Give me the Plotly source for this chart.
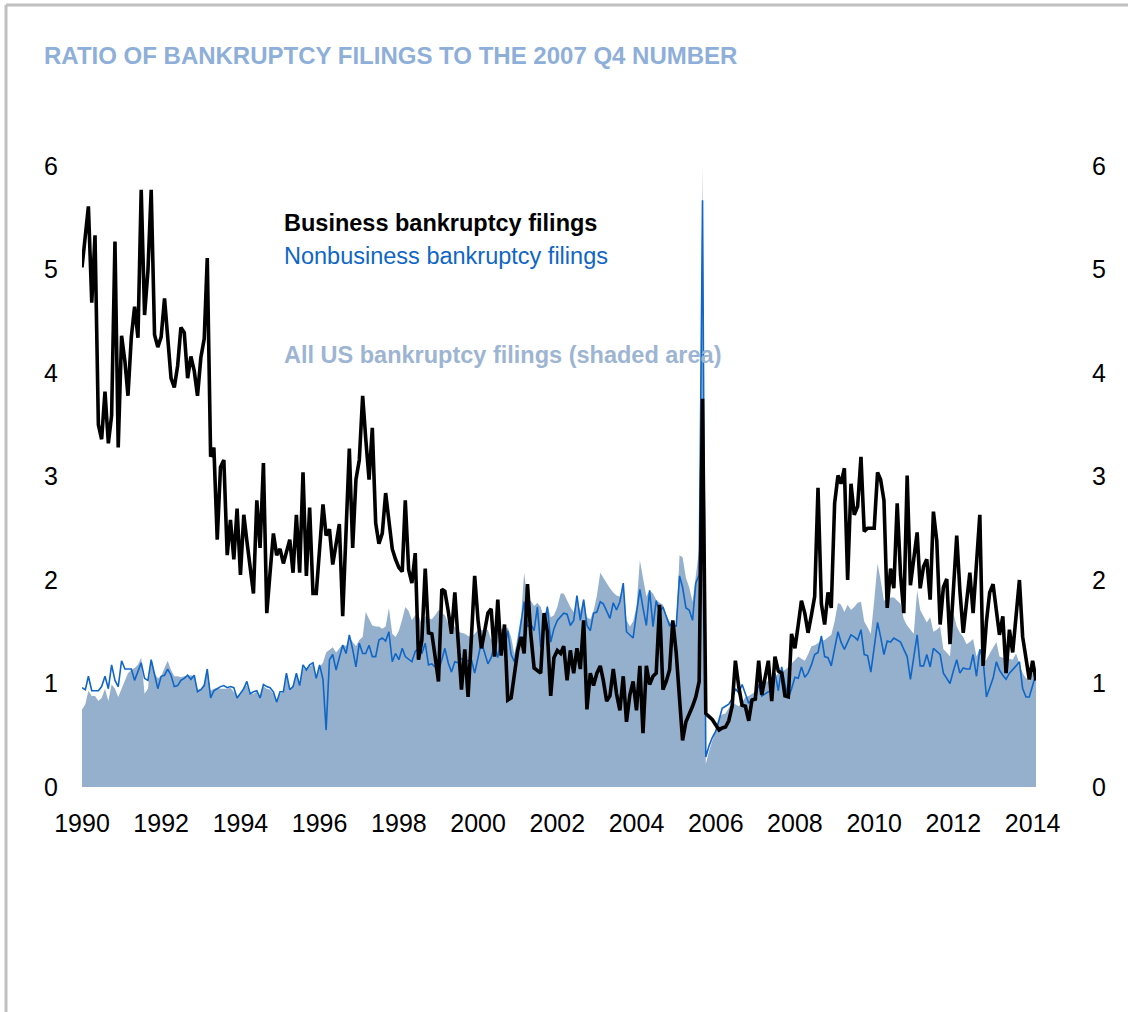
import pandas as pd
import plotly.graph_objects as go

# ---------------- data (monthly, Jan 1990 onward) ----------------
business = [
    5.02, 5.35, 5.61, 4.68, 5.33, 3.50, 3.36, 3.82, 3.32, 3.59,
    5.27, 3.28, 4.36, 4.11, 3.78, 4.35, 4.64, 4.34, 5.77, 4.56,
    4.99, 5.77, 4.37, 4.25, 4.35, 4.72, 4.31, 3.95, 3.86, 4.07,
    4.44, 4.39, 3.95, 4.16, 4.02, 3.78, 4.15, 4.33, 5.11, 3.19,
    3.28, 2.39, 3.09, 3.16, 2.24, 2.58, 2.20, 2.69, 2.05, 2.63,
    2.38, 2.12, 1.87, 2.77, 2.31, 3.13, 1.68, 2.07, 2.45, 2.24,
    2.30, 2.16, 2.27, 2.39, 2.07, 2.63, 2.07, 3.04, 2.04, 2.70,
    1.87, 1.87, 2.30, 2.73, 2.43, 2.49, 2.15, 2.35, 2.54, 1.65,
    2.46, 3.27, 2.31, 2.97, 3.16, 3.78, 3.37, 2.97, 3.47, 2.55,
    2.35, 2.45, 2.84, 2.55, 2.30, 2.20, 2.12, 2.08, 2.77, 2.10,
    1.97, 2.26, 1.23, 1.42, 2.11, 1.49, 1.48, 1.26, 1.02, 1.91,
    1.89, 1.70, 1.48, 1.88, 1.42, 0.94, 1.33, 0.87, 1.45, 2.04,
    1.61, 1.34, 1.50, 1.68, 1.72, 1.26, 1.81, 1.27, 1.57, 0.84,
    0.86, 1.10, 1.32, 1.45, 1.29, 1.96, 1.48, 1.15, 1.12, 1.10,
    1.68, 1.50, 0.88, 1.25, 1.32, 1.29, 1.36, 1.03, 1.32, 1.10,
    1.34, 1.14, 1.61, 0.75, 1.10, 0.98, 1.10, 1.17, 1.03, 0.83,
    0.88, 1.14, 0.90, 0.74, 1.07, 0.63, 0.89, 1.02, 0.74, 1.17,
    0.52, 1.17, 0.99, 1.07, 1.10, 1.76, 0.94, 1.02, 1.13, 1.61,
    1.30, 0.90, 0.45, 0.63, 0.70, 0.78, 0.87, 1.02, 3.75, 0.71,
    0.68, 0.65, 0.60, 0.55, 0.57, 0.58, 0.64, 0.78, 1.22, 0.97,
    0.79, 0.78, 0.64, 0.84, 0.85, 1.22, 0.89, 1.05, 1.22, 0.83,
    1.26, 1.12, 1.10, 0.88, 0.87, 1.48, 1.34, 1.57, 1.80, 1.68,
    1.49, 1.66, 1.84, 2.89, 1.77, 1.57, 1.88, 1.73, 2.74, 3.01,
    2.93, 3.08, 2.00, 2.93, 2.63, 2.71, 3.19, 2.47, 2.50, 2.50,
    2.50, 3.04, 2.97, 2.77, 1.73, 2.11, 1.92, 2.74, 2.05, 1.68,
    3.01, 1.95, 2.20, 2.46, 1.92, 2.13, 2.20, 1.81, 2.66, 2.38,
    1.57, 1.93, 2.01, 1.38, 1.90, 2.43, 1.90, 1.49, 1.78, 2.07,
    1.68, 2.15, 2.63, 1.17, 1.60, 1.88, 1.96, 1.70, 1.47, 1.65,
    1.10, 1.52, 1.30, 1.65, 2.00, 1.45, 1.25, 1.04, 1.22, 1.03,
]

nonbusiness = [
    0.96, 0.94, 1.07, 0.93, 0.93, 0.93, 0.97, 1.07, 0.95, 1.18,
    1.03, 0.97, 1.22, 1.14, 1.14, 1.14, 1.03, 1.12, 1.20, 1.05,
    1.03, 1.23, 1.10, 0.95, 1.07, 1.08, 1.14, 1.08, 0.97, 0.98,
    1.03, 1.05, 1.08, 1.04, 1.08, 0.92, 0.94, 0.98, 1.14, 0.86,
    0.93, 0.95, 0.97, 0.98, 0.96, 0.97, 0.96, 0.86, 0.90, 0.95,
    1.02, 0.90, 0.92, 0.93, 0.86, 0.99, 0.97, 0.96, 0.92, 0.82,
    0.92, 0.92, 1.10, 0.94, 0.97, 1.10, 0.98, 1.18, 1.13, 1.18,
    1.20, 1.05, 1.18, 1.04, 0.55, 1.23, 1.28, 1.13, 1.25, 1.37,
    1.29, 1.47, 1.33, 1.16, 1.39, 1.29, 1.29, 1.37, 1.26, 1.26,
    1.42, 1.44, 1.41, 1.50, 1.21, 1.29, 1.23, 1.34, 1.26, 1.23,
    1.21, 1.31, 1.34, 1.29, 1.39, 1.18, 1.19, 1.16, 1.12, 1.23,
    1.34, 1.20, 1.11, 1.21, 1.20, 1.24, 1.22, 1.22, 1.23, 1.10,
    1.26, 1.40, 1.30, 1.19, 1.25, 1.37, 1.25, 1.45, 1.32, 1.51,
    1.28, 1.21, 1.37, 1.58, 1.79, 1.55, 1.58, 1.51, 1.74, 1.35,
    1.55, 1.74, 1.40, 1.53, 1.61, 1.65, 1.68, 1.67, 1.56, 1.61,
    1.85, 1.61, 1.81, 1.56, 1.51, 1.68, 1.69, 1.79, 1.77, 1.70,
    1.63, 1.78, 1.71, 1.79, 1.97, 1.50, 1.47, 1.44, 1.68, 1.91,
    1.73, 1.56, 1.90, 1.55, 1.80, 1.69, 1.74, 1.65, 1.56, 1.58,
    1.55, 2.04, 1.93, 1.73, 1.71, 1.61, 1.97, 2.05, 5.67, 0.29,
    0.40, 0.48, 0.54, 0.65, 0.76, 0.78, 0.80, 0.85, 0.95, 0.91,
    0.99, 0.90, 0.81, 0.85, 0.86, 0.99, 0.88, 0.90, 0.92, 0.93,
    1.10, 0.93, 1.16, 0.99, 0.86, 0.95, 1.06, 1.05, 1.16, 1.06,
    1.10, 1.18, 1.28, 1.30, 1.46, 1.26, 1.25, 1.17, 1.35, 1.50,
    1.40, 1.33, 1.40, 1.47, 1.45, 1.42, 1.52, 1.28, 1.27, 1.11,
    1.35, 1.59, 1.45, 1.28, 1.41, 1.40, 1.44, 1.42, 1.40, 1.33,
    1.26, 1.04, 1.25, 1.47, 1.17, 1.17, 1.28, 1.16, 1.34, 1.31,
    1.28, 1.10, 1.05, 1.00, 1.12, 1.23, 1.10, 1.15, 1.14, 1.14,
    1.28, 1.07, 1.33, 1.23, 0.87, 0.96, 1.05, 1.21, 1.13, 1.08,
    1.04, 1.10, 1.13, 1.17, 1.21, 0.95, 0.87, 0.87, 0.98, 1.10,
]

all_filings = [
    0.75, 0.80, 0.93, 0.88, 0.88, 0.83, 0.86, 0.95, 0.83, 0.99,
    0.95, 0.87, 0.95, 1.03, 1.10, 1.13, 1.15, 1.18, 1.25, 0.90,
    0.95, 1.23, 1.10, 1.05, 1.07, 1.15, 1.22, 1.13, 1.07, 1.07,
    1.06, 1.07, 1.07, 1.08, 1.07, 0.94, 0.95, 1.00, 1.13, 0.93,
    0.95, 0.96, 0.95, 0.95, 0.95, 0.96, 0.92, 0.88, 0.90, 0.97,
    0.98, 0.90, 0.90, 0.92, 0.86, 0.97, 0.95, 0.94, 0.90, 0.83,
    0.90, 0.92, 1.06, 0.95, 0.98, 1.08, 1.00, 1.15, 1.13, 1.17,
    1.18, 1.05, 1.16, 1.20, 1.30, 1.33, 1.35, 1.30, 1.34, 1.38,
    1.36, 1.45, 1.40, 1.36, 1.42, 1.45, 1.69, 1.63, 1.56, 1.55,
    1.55, 1.53, 1.55, 1.73, 1.48, 1.45, 1.51, 1.62, 1.74, 1.70,
    1.61, 1.66, 1.66, 1.57, 1.65, 1.63, 1.62, 1.66, 1.71, 1.68,
    1.66, 1.58, 1.56, 1.55, 1.50, 1.49, 1.48, 1.46, 1.45, 1.48,
    1.52, 1.52, 1.51, 1.52, 1.42, 1.48, 1.55, 1.53, 1.52, 1.54,
    1.45, 1.28, 1.45, 1.65, 2.07, 1.81, 1.80, 1.75, 1.78, 1.74,
    1.62, 1.76, 1.64, 1.66, 1.74, 1.87, 1.87, 1.80, 1.74, 1.69,
    1.80, 1.70, 1.82, 1.64, 1.62, 1.70, 1.85, 2.07, 2.02, 1.97,
    1.92, 1.88, 1.85, 1.84, 1.95, 1.61, 1.55, 1.60, 1.74, 2.19,
    2.03, 1.84, 1.90, 1.87, 1.81, 1.78, 1.76, 1.66, 1.60, 1.58,
    1.56, 2.24, 2.22, 2.02, 1.93, 1.79, 2.02, 2.30, 6.00, 0.22,
    0.35, 0.45, 0.55, 0.68, 0.70, 0.71, 0.76, 0.82, 0.80, 0.78,
    0.82, 0.87, 0.88, 0.90, 0.92, 0.95, 0.98, 1.02, 1.02, 1.03,
    1.06, 1.10, 1.12, 1.13, 1.16, 1.19, 1.22, 1.26, 1.24, 1.22,
    1.28, 1.36, 1.37, 1.39, 1.41, 1.42, 1.45, 1.47, 1.60, 1.78,
    1.76, 1.69, 1.76, 1.71, 1.74, 1.78, 1.79, 1.60, 1.54, 1.48,
    1.80, 2.16, 2.00, 1.80, 1.82, 1.83, 1.83, 1.80, 1.77, 1.62,
    1.56, 1.52, 1.48, 1.90, 1.71, 1.65, 1.59, 1.64, 1.50, 1.52,
    1.55, 1.33, 1.30, 1.26, 1.68, 1.55, 1.49, 1.45, 1.38, 1.40,
    1.43, 1.26, 1.33, 1.20, 1.23, 1.29, 1.35, 1.40, 1.26, 1.25,
    1.25, 1.24, 1.23, 1.29, 1.19, 1.10, 1.05, 1.03, 1.10, 1.16,
]

dates = pd.date_range("1990-01-01", periods=len(business), freq="MS")

year_ticks = [str(y) for y in range(1990, 2015, 2)]
year_tickvals = [f"{y}-01-01" for y in year_ticks]
y_ticks = [0, 1, 2, 3, 4, 5, 6]

title_text = "RATIO OF BANKRUPTCY FILINGS TO THE 2007 Q4 NUMBER"
label_business = "Business bankruptcy filings"
label_nonbusiness = "Nonbusiness bankruptcy filings"
label_all = "All US bankruptcy filings (shaded area)"

# ---------------- layout geometry ----------------
W, H = 1128, 1012
L, R, T, B = 82, 1036, 166, 787
PW, PH = R - L, B - T


def px(x):
    return (x - L) / PW


def py(y):
    return (B - y) / PH


NARROW = "Liberation Sans Narrow, Arial Narrow, Liberation Sans, Arial, sans-serif"
REG = "Liberation Sans, Arial, sans-serif"

fig = go.Figure()

fig.add_trace(go.Scatter(
    x=dates, y=all_filings, mode="lines", fill="tozeroy",
    fillcolor="#94B0CD", line=dict(width=0, color="#94B0CD"),
    hoverinfo="skip", showlegend=False,
))
fig.add_trace(go.Scatter(
    x=dates, y=nonbusiness, mode="lines",
    line=dict(width=1.6, color="#0F66C6"),
    showlegend=False,
))
fig.add_trace(go.Scatter(
    x=dates, y=business, mode="lines", yaxis="y2",
    line=dict(width=3.6, color="#000000"),
    showlegend=False,
))

axis_font = dict(family=NARROW, size=25, color="#000000")

fig.update_layout(
    width=W, height=H,
    margin=dict(l=L, r=W - R, t=T, b=H - B, pad=0),
    paper_bgcolor="white", plot_bgcolor="white",
    xaxis=dict(
        type="date", range=["1990-01-01", "2014-02-01"],
        tickvals=year_tickvals, ticktext=year_ticks,
        showgrid=False, zeroline=False, showline=False,
        ticks="outside", ticklen=14, tickcolor="rgba(0,0,0,0)",
        tickfont=axis_font,
    ),
    yaxis=dict(
        range=[0, 6], tickvals=y_ticks,
        showgrid=False, zeroline=False, showline=False,
        ticks="outside", ticklen=18, tickcolor="rgba(0,0,0,0)",
        tickfont=axis_font,
    ),
    yaxis2=dict(
        range=[0, 6], tickvals=y_ticks, overlaying="y", side="right",
        showgrid=False, zeroline=False, showline=False,
        ticks="outside", ticklen=50, tickcolor="rgba(0,0,0,0)",
        tickfont=axis_font,
    ),
    showlegend=False,
)

annotations = [
    dict(text=f"<b>{title_text}</b>", x=px(42), y=py(55),
         font=dict(family=REG, size=24, color="#8EAFD9")),
    dict(text=f"<b>{label_business}</b>", x=px(282), y=py(223),
         font=dict(family=NARROW, size=23.5, color="#000000")),
    dict(text=label_nonbusiness, x=px(282), y=py(256),
         font=dict(family=NARROW, size=23.5, color="#0F66C6")),
    dict(text=f"<b>{label_all}</b>", x=px(282), y=py(355),
         font=dict(family=NARROW, size=23.5, color="#9DB5D3")),
]
for a in annotations:
    a.update(xref="paper", yref="paper", xanchor="left", yanchor="middle",
             showarrow=False)
fig.update_layout(annotations=annotations)

fig.update_layout(shapes=[
    dict(type="line", xref="paper", yref="paper",
         x0=px(6), x1=px(6), y0=py(5), y1=py(1012),
         line=dict(color="#C0C0C0", width=3)),
    dict(type="line", xref="paper", yref="paper",
         x0=px(6), x1=px(1128), y0=py(5), y1=py(5),
         line=dict(color="#C0C0C0", width=3)),
])

fig.write_html(
    "out.html",
    config={"displayModeBar": False},
    post_script="document.body.style.margin='0';document.body.style.padding='0';",
)
